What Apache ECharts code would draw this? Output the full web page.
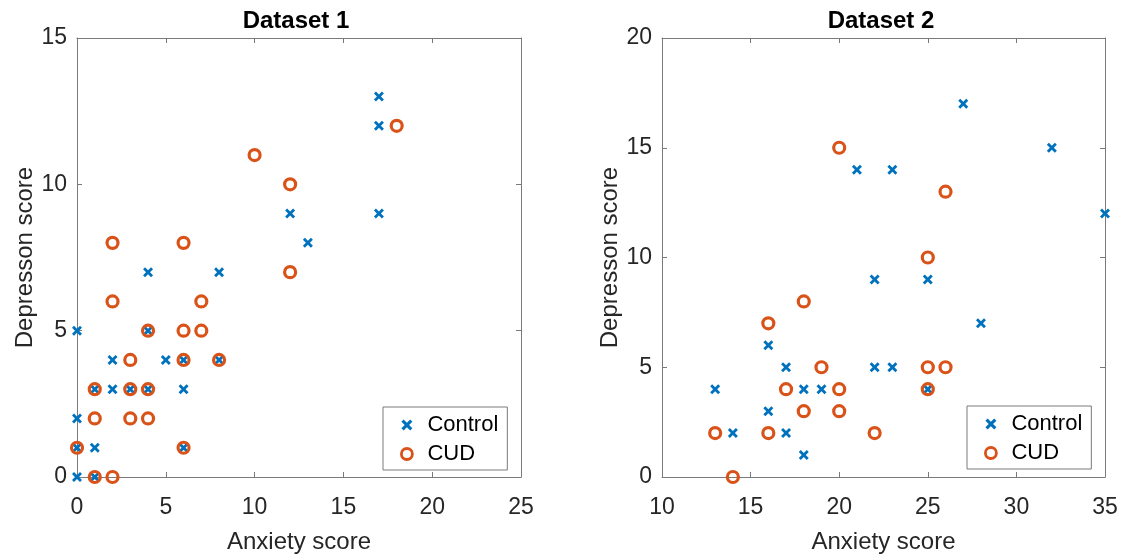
<!DOCTYPE html>
<html>
<head>
<meta charset="utf-8">
<script src="https://cdn.jsdelivr.net/npm/echarts@6/dist/echarts.min.js"></script>
<style>
html,body{margin:0;padding:0;background:#fff;}
#chart{width:1125px;height:559px;}
</style>
</head>
<body>
<div id="chart"></div>
<script>
// ---- Data ----
var titles = ['Dataset 1', 'Dataset 2'];
var seriesNames = ['Control', 'CUD'];
var xAxisName = 'Anxiety score';
var yAxisName = 'Depresson score';

var d1ControlX = [4, 8, 0, 4, 2, 5, 6, 8, 1, 2, 3, 4, 6, 0, 0, 1, 6, 0, 1, 17, 17, 12, 17, 13];
var d1ControlY = [7, 7, 5, 5, 4, 4, 4, 4, 3, 3, 3, 3, 3, 2, 1, 1, 1, 0, 0, 13, 12, 9, 9, 8];
var d1CudX = [18, 10, 12, 2, 6, 12, 2, 7, 4, 6, 7, 3, 6, 8, 1, 3, 4, 1, 3, 4, 0, 6, 1, 2];
var d1CudY = [12, 11, 10, 8, 8, 7, 6, 6, 5, 5, 5, 4, 4, 4, 3, 3, 3, 2, 2, 2, 1, 1, 0, 0];

var d2ControlX = [13, 14, 16, 16, 17, 17, 18, 18, 19, 22, 23, 25, 27, 32, 21, 23, 35, 22, 25, 28];
var d2ControlY = [4, 2, 6, 3, 5, 2, 4, 1, 4, 5, 5, 4, 17, 15, 14, 14, 12, 9, 9, 7];
var d2CudX = [20, 26, 25, 18, 16, 19, 25, 26, 17, 20, 25, 18, 20, 13, 16, 22, 14];
var d2CudY = [15, 13, 10, 8, 7, 5, 5, 5, 4, 4, 4, 3, 3, 2, 2, 2, 0];

var d1XTicks = [0, 25, 5];   // min, max, interval
var d1YTicks = [0, 15, 5];
var d2XTicks = [10, 35, 5];
var d2YTicks = [0, 20, 5];

function pairs(xs, ys) { return xs.map(function (x, i) { return [x, ys[i]]; }); }

// ---- Styles ----
var FONT = 'Liberation Sans, Arial, Helvetica, sans-serif';
var BLUE = '#0072BD', ORANGE = '#D95319';
var AXC = '#7a7a7a';
var XPATH = 'path://M0,2 L2,0 L5,3 L8,0 L10,2 L7,5 L10,8 L8,10 L5,7 L2,10 L0,8 L3,5 Z';

function mainX(idx, t) {
  return {
    gridIndex: idx, type: 'value', min: t[0], max: t[1], interval: t[2], position: 'bottom',
    name: xAxisName, nameLocation: 'middle', nameGap: 53,
    nameTextStyle: { fontFamily: FONT, fontSize: 24, color: '#262626' },
    axisLine: { show: true, onZero: false, lineStyle: { color: AXC, width: 1 } },
    axisTick: { show: true, inside: true, length: 5, lineStyle: { color: AXC } },
    axisLabel: { fontFamily: FONT, fontSize: 23, color: '#262626', margin: 19 },
    splitLine: { show: false }
  };
}
function mirrorX(idx, t) {
  return {
    gridIndex: idx, type: 'value', min: t[0], max: t[1], interval: t[2], position: 'top',
    axisLine: { show: true, onZero: false, lineStyle: { color: AXC, width: 1 } },
    axisTick: { show: true, inside: true, length: 5, lineStyle: { color: AXC } },
    axisLabel: { show: false }, splitLine: { show: false }
  };
}
function mainY(idx, t) {
  return {
    gridIndex: idx, type: 'value', min: t[0], max: t[1], interval: t[2], position: 'left',
    name: yAxisName, nameLocation: 'middle', nameGap: 39,
    nameTextStyle: { fontFamily: FONT, fontSize: 24, color: '#262626' },
    axisLine: { show: true, onZero: false, lineStyle: { color: AXC, width: 1 } },
    axisTick: { show: true, inside: true, length: 5, lineStyle: { color: AXC } },
    axisLabel: { fontFamily: FONT, fontSize: 23, color: '#262626', margin: 10 },
    splitLine: { show: false }
  };
}
function mirrorY(idx, t) {
  return {
    gridIndex: idx, type: 'value', min: t[0], max: t[1], interval: t[2], position: 'right',
    axisLine: { show: true, onZero: false, lineStyle: { color: AXC, width: 1 } },
    axisTick: { show: true, inside: true, length: 5, lineStyle: { color: AXC } },
    axisLabel: { show: false }, splitLine: { show: false }
  };
}
function ctrlSeries(x, y, data) {
  return {
    name: seriesNames[0], type: 'scatter', xAxisIndex: x, yAxisIndex: y, data: data,
    symbol: XPATH, symbolSize: 10, clip: false,
    itemStyle: { color: BLUE, opacity: 1 }
  };
}
function cudSeries(x, y, data) {
  return {
    name: seriesNames[1], type: 'scatter', xAxisIndex: x, yAxisIndex: y, data: data,
    symbol: 'circle', symbolSize: 11, clip: false,
    itemStyle: { color: 'rgba(255,255,255,0)', borderColor: ORANGE, borderWidth: 3.2, opacity: 1 }
  };
}
function legendAt(left, top) {
  return {
    orient: 'vertical', left: left, top: top,
    borderColor: AXC, borderWidth: 1, padding: [7, 9, 5, 17], itemGap: 7,
    itemWidth: 31, itemHeight: 11,
    textStyle: { fontFamily: FONT, fontSize: 22, color: '#000' },
    data: [
      { name: seriesNames[0], icon: XPATH, itemStyle: { color: BLUE, opacity: 1 } },
      { name: seriesNames[1], icon: 'circle', itemStyle: { color: '#fff', borderColor: ORANGE, borderWidth: 2.8, opacity: 1 } }
    ],
    selectedMode: false
  };
}

var chart = echarts.init(document.getElementById('chart'), null, { renderer: 'canvas' });
chart.setOption({
  animation: false,
  backgroundColor: '#fff',
  title: [
    { text: titles[0], left: 291, top: 4, textAlign: 'center', textStyle: { fontFamily: FONT, fontSize: 24, fontWeight: 'bold', color: '#000' } },
    { text: titles[1], left: 876, top: 4, textAlign: 'center', textStyle: { fontFamily: FONT, fontSize: 24, fontWeight: 'bold', color: '#000' } }
  ],
  grid: [
    { left: 77, top: 38, width: 444, height: 444 },
    { left: 662, top: 38, width: 443, height: 444 }
  ],
  xAxis: [mainX(0, d1XTicks), mirrorX(0, d1XTicks), mainX(1, d2XTicks), mirrorX(1, d2XTicks)],
  yAxis: [mainY(0, d1YTicks), mirrorY(0, d1YTicks), mainY(1, d2YTicks), mirrorY(1, d2YTicks)],
  legend: [legendAt(383, 407), legendAt(967, 406)],
  series: [
    ctrlSeries(0, 0, pairs(d1ControlX, d1ControlY)),
    cudSeries(0, 0, pairs(d1CudX, d1CudY)),
    ctrlSeries(2, 2, pairs(d2ControlX, d2ControlY)),
    cudSeries(2, 2, pairs(d2CudX, d2CudY))
  ]
});
</script>
</body>
</html>
